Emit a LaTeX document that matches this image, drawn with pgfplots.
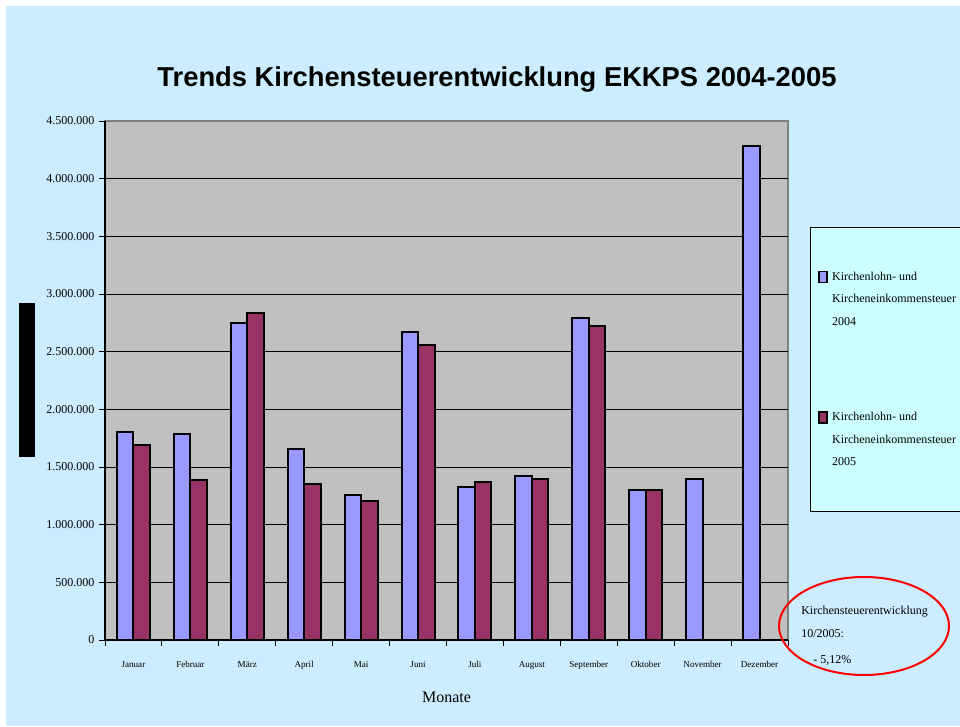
\documentclass[border=0pt]{standalone}
\usepackage{pgfplots}
\pgfplotsset{compat=1.18}
\usepackage{fontspec}
\setmainfont{Liberation Serif}
\newfontfamily\titlefont{Liberation Sans}
\definecolor{bgblue}{RGB}{204,236,255}
\definecolor{plotgray}{RGB}{192,192,192}
\definecolor{legcyan}{RGB}{204,255,255}
\definecolor{cA}{RGB}{153,153,255}
\definecolor{cB}{RGB}{153,51,102}
\definecolor{framegray}{RGB}{128,128,128}
\begin{document}
\begin{tikzpicture}[x=0.75pt,y=0.75pt]
\useasboundingbox (0,0) rectangle (960,726);
\clip (0,0) rectangle (960,726);
\fill[white] (0,0) rectangle (960,726);
\fill[bgblue] (6,0) rectangle (960,720);
\fill[black] (19,269) rectangle (35,423);
\node[font=\titlefont\bfseries\fontsize{20.5}{24}\selectfont, anchor=base, inner sep=0pt] at (497,639) {Trends Kirchensteuerentwicklung EKKPS 2004-2005};
\begin{axis}[
  at={(78.75pt,64.5pt)}, anchor=south west,
  scale only axis, width=512.25pt, height=389.25pt,
  ybar=0pt, bar width=12.4pt,
  xmin=-0.5, xmax=11.5, ymin=0, ymax=4500000,
  axis background/.style={fill=plotgray, draw=framegray, line width=1.2pt},
  axis x line*=bottom, axis y line*=left,
  axis line style={black, line width=1.1pt, -},
  xtick={-0.5,0.5,1.5,2.5,3.5,4.5,5.5,6.5,7.5,8.5,9.5,10.5,11.5},
  x tick label as interval,
  xticklabels={Januar,Februar,März,April,Mai,Juni,Juli,August,September,Oktober,November,Dezember},
  x tick label style={font=\fontsize{6.8}{8}\selectfont, yshift=-8pt},
  tick align=outside,
  major tick length=4.5pt,
  tick style={black, line width=0.75pt},
  ytick={0,500000,1000000,1500000,2000000,2500000,3000000,3500000,4000000},
  ymajorgrids, grid style={black, line width=0.75pt},
  extra y ticks={4500000},
  extra y tick style={grid=none},
  scaled y ticks=false,
  yticklabel style={font=\fontsize{9}{10}\selectfont, /pgf/number format/.cd, fixed, precision=0, 1000 sep={.}, assume math mode=true},
  xlabel={Monate},
  xlabel style={font=\fontsize{12}{13}\selectfont, at={(axis description cs:0.5,-0.1098)}, anchor=center},
  legend cell align=left,
  legend style={at={(axis description cs:1.0322,0.7958)}, anchor=north west,
    fill=legcyan, draw=black, line width=0.75pt,
    inner xsep=6pt, inner ysep=32.5pt, row sep=63pt,
    nodes={font=\fontsize{9}{16.9}\selectfont, align=left, inner ysep=0pt, inner xsep=3pt}},
  legend image code/.code={\draw[#1, line width=1.2pt] (0pt,12.9pt) rectangle (6pt,21pt);},
]
\addplot[fill=cA, draw=black, line width=1.5pt] coordinates {
 (0,1802000) (1,1782000) (2,2745000) (3,1658000) (4,1260000) (5,2670000)
 (6,1326000) (7,1421000) (8,2788000) (9,1303000) (10,1399000) (11,4279000)};
\addlegendentry{Kirchenlohn- und\\Kircheneinkommensteuer\hspace*{12pt}\\2004}
\addplot[fill=cB, draw=black, line width=1.5pt] coordinates {
 (0,1687000) (1,1384000) (2,2837000) (3,1352000) (4,1208000) (5,2555000)
 (6,1373000) (7,1395000) (8,2722000) (9,1303000)};
\addlegendentry{Kirchenlohn- und\\Kircheneinkommensteuer\hspace*{12pt}\\2005}
\end{axis}
\draw[red, line width=1.5pt] (864,100) ellipse [x radius=63.75pt, y radius=36.75pt];
\node[font=\fontsize{9}{10}\selectfont, anchor=base west, inner sep=0pt] at (801,112) {Kirchensteuerentwicklung};
\node[font=\fontsize{9}{10}\selectfont, anchor=base west, inner sep=0pt] at (801,89) {10/2005:};
\node[font=\fontsize{9}{10}\selectfont, anchor=base west, inner sep=0pt] at (813,63) {- 5,12\%};
\end{tikzpicture}
\end{document}
